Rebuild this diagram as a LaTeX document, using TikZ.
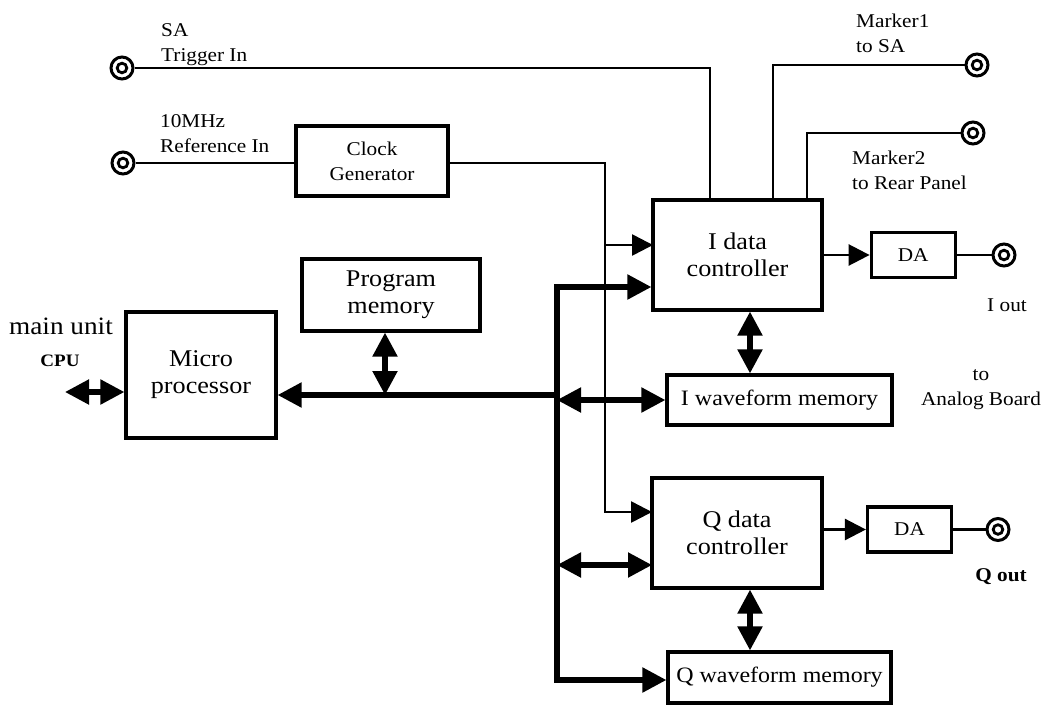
\documentclass[tikz,border=0pt]{standalone}
\usepackage{fontspec}
\setmainfont{Liberation Serif}[FakeStretch=1.09]
\usetikzlibrary{arrows.meta,positioning}
\newcommand{\blockfont}{\fontsize{24}{27}\selectfont}
\newcommand{\memfont}{\fontsize{22}{27}\selectfont}
\newcommand{\labelfont}{\fontsize{19.5}{25}\selectfont}
\tikzset{
 block/.style={
 rectangle,
 draw,
 line width=3.2pt,
 align=center,
 inner sep=0pt,
 font=\blockfont
 },
 smallblock/.style={block, font=\labelfont},
 memblock/.style={block, font=\memfont},
 jack/.style={
 circle,
 draw,
 line width=3pt,
 minimum size=22pt,
 inner sep=0pt,
 path picture={\draw[line width=2.8pt] (path picture bounding box.center) circle (4.8pt);}
 },
 lbl/.style={inner sep=0pt, font=\labelfont},
 sig/.style={line width=2.6pt},
 sigarrow/.style={sig, -{Triangle[length=21pt, width=21pt]}},
 bus/.style={line width=5.2pt},
 busarrow/.style={bus, -{Triangle[length=24pt, width=24pt]}},
 busdbl/.style={bus, {Triangle[length=24pt, width=24pt]}-{Triangle[length=24pt, width=24pt]}}
}

\begin{document}
\begin{tikzpicture}[x=1pt, y=-1pt]
	\useasboundingbox (0,0) rectangle (1044,705);

	% blocks
	\node[block, minimum width=150pt, minimum height=126pt] (micro) at (201,375) {Micro\\processor};
	\node[block, minimum width=178pt, minimum height=72pt] (progmem) at (391,295) {Program\\memory};
	\node[smallblock, minimum width=152pt, minimum height=70pt] (clock) at (372,161) {Clock\\Generator};
	\node[block, minimum width=169pt, minimum height=110pt] (idata) at (737.5,255) {I data\\controller};
	\node[smallblock, minimum width=84pt, minimum height=45pt, right=46pt of idata] (ida) {DA};
	\node[memblock, minimum width=225pt, minimum height=50pt] (iwave) at (779.5,400) {I waveform memory};
	\node[block, minimum width=170pt, minimum height=110pt] (qdata) at (737,533) {Q data\\controller};
	\node[smallblock, minimum width=84pt, minimum height=45pt] (qda) at (909.5,529.5) {DA};
	\node[memblock, minimum width=223pt, minimum height=51pt] (qwave) at (779.5,677.5) {Q waveform memory};

	% jacks
	\node[jack] (satrig) at (122,68) {};
	\node[jack] (refin) at (123,163) {};
	\node[jack] (mka) at (977,65) {};
	\node[jack] (mkb) at (973,133) {};
	\node[jack] (iout) at (1004,255) {};
	\node[jack] (qout) at (998,529.5) {};

	% labels
	\node[lbl, anchor=west, align=left] (satext) at (161,45) {SA\\Trigger In};
	\node[lbl, anchor=west, align=left] (reftext) at (160,134) {10MHz\\Reference In};
	\node[lbl, anchor=west, align=left] (mkatext) at (856,33) {Marker1\\to SA};
	\node[lbl, anchor=west, align=left] (mkbtext) at (852,170) {Marker2\\to Rear Panel};
	\node[lbl] (iouttext) at (1007,305) {I out};
	\node[lbl, font=\labelfont\bfseries] (qouttext) at (1001,577) {Q out};
	\node[lbl, align=center] (analog) at (981,390) {to\\Analog Board};
	\node[inner sep=0pt, font=\fontsize{25}{28}\selectfont] (mainunit) at (61,326) {main unit};
	\node[inner sep=0pt, font=\fontsize{17.5}{20}\selectfont\bfseries] (cputext) at (60,361) {CPU};

	% tap points
	\coordinate (satap) at (710,200);
	\coordinate (mkatap) at (773,200);
	\coordinate (mkbtap) at (807,200);
	\coordinate (clkbus) at (605,163);
	\coordinate (iclk) at (653,245);
	\coordinate (qclk) at (652,512);
	\coordinate (busj) at (557,395);
	\coordinate (bustop) at (557,287);
	\coordinate (busbot) at (557,680);
	\coordinate (pmtap) at (385,395);
	\coordinate (qbus) at (652,565);
	\coordinate (wcol) at (750,0);
	\coordinate (cpu) at (65,392);

	% trigger, clock and markers
	\draw[sig] (satrig) -| (satap);
	\draw[sig] (mkatap) |- (mka);
	\draw[sig] (mkbtap) |- (mkb);
	\draw[sig] (refin) -- (refin -| clock.west);
	\draw[sigarrow] (clock.east |- clkbus) -| (clkbus |- qclk) -- (qclk);
	\draw[sigarrow] (clkbus |- iclk) -- (iclk);

	% data bus
	\draw[busarrow] (busj) -- (micro.east |- busj);
	\draw[busdbl] (idata.west |- bustop) -- (bustop) -- (busbot) -- (qwave.west |- busbot);
	\draw[busdbl] (pmtap |- progmem.south) -- (pmtap);
	\draw[busdbl] (busj |- iwave.west) -- (iwave.west);
	\draw[busdbl] (busj |- qbus) -- (qbus);
	\draw[busdbl] (wcol |- idata.south) -- (wcol |- iwave.north);
	\draw[busdbl] (wcol |- qdata.south) -- (wcol |- qwave.north);
	\draw[busdbl] (cpu) -- (micro.west |- cpu);

	% outputs
	\draw[sigarrow] (idata.east |- ida.west) -- (ida.west);
	\draw[sig] (ida.east) -- (iout);
	\draw[sigarrow] (qdata.east |- qda.west) -- (qda.west);
	\draw[sig] (qda.east) -- (qout);
\end{tikzpicture}
\end{document}
